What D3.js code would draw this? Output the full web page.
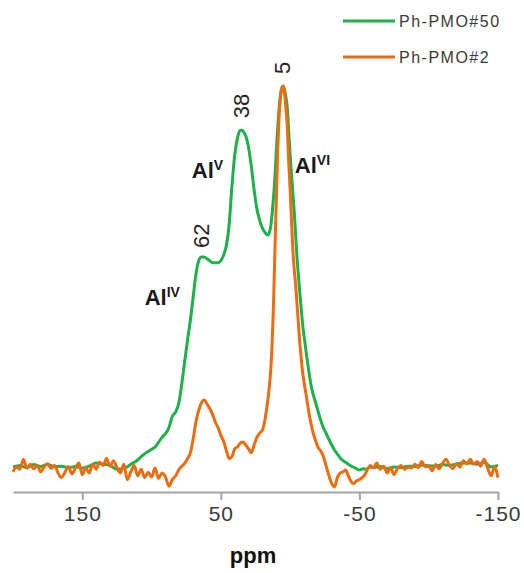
<!DOCTYPE html>
<html>
<head>
<meta charset="utf-8">
<title>27Al NMR</title>
<script src="https://d3js.org/d3.v7.min.js"></script>
<style>
  body { margin: 0; background: #fff; }
  text { font-family: "Liberation Sans", Arial, sans-serif; }
</style>
</head>
<body>
<div id="chart"></div>
<script>
// Ph-PMO#50 (green)
var greenPpm = [200,195,190,185,180,175,170,165,160,155,150,145,140,135,130,125,120,117.5,115,112.5,110,107.5,105,102.5,100,97.5,95,92.5,90,87.5,85,82.5,80,78,76,74,72,70,68,66,64,62,60,58,56,54,52,50,48,46,44,42,40,38,36,35,34,32,30,28,26,24,22,20,18,16,14,12,11,10,9,8,7,6,5,4,3,2,1,0,-1,-2,-3,-4,-5,-6,-7,-8,-9,-10,-12,-14,-16,-18,-20,-22,-24,-26,-28,-30,-32,-34,-36,-38,-40,-42,-44,-46,-48,-50,-52.5,-55,-57.5,-60,-65,-70,-75,-80,-85,-90,-95,-100,-105,-110,-115,-120,-125,-130,-135,-140,-145,-150];
var greenInt = [0.8,1.2,0.6,1.4,0.9,1.5,0.8,1.0,0.6,0.9,0.5,1.0,1.8,1.5,1.2,0.2,0.5,0.8,1.5,2.0,2.6,3.5,4.2,4.8,5.4,6.0,7.2,8.5,9.5,11.0,14.0,15.2,18,23,28.5,34,39,45,51,54.5,55.5,55.5,55,54.5,54,54,54,54.5,56,58.5,64,74,82,86.5,88.5,88.5,88.2,87,84,79,73,68,65,63,61.8,61.2,63.5,71,76,83,89,94,97.5,99.5,100,99,97,94,88,82,77,72,67,61,55,50.5,46,42,38,35,29.5,24.5,20.5,18,15.5,13,11,9.5,8,6.5,5.2,4.2,3.2,2.5,2.0,1.5,1.0,0.7,0.3,0.0,0.3,0.2,0.8,0.6,0.9,0.4,0.8,0.6,1.0,0.9,1.3,1.1,1.0,1.4,1.2,1.6,1.8,1.8,1.5,2.0,0.8,1.2];

// Ph-PMO#2 (orange)
var orangePpm = [200,197.5,195,192.5,190,187.5,185,182.5,180,177.5,175,172.5,170,167.5,165,162.5,160,157.5,155,152.5,150,147.5,145,142.5,140,137.5,135,132.5,130,127.5,125,122.5,120,117.5,115,112.5,110,107.5,105,102.5,100,97.5,95,92.5,90,87.5,85,82.5,80,78,76,74,72,70,68,66,64,62,60,58,56,54,52,50,48,46,44,42,40,38,36,34,32,30,28,26,24,22,20,18,16,14,13,12,11,10,9,8,7,6,5,4,3,2,1,0,-1,-2,-3,-4,-5,-6,-7,-8,-9,-10,-12,-14,-16,-18,-20,-22,-24,-26,-28,-30,-32,-34,-36,-38,-40,-42,-44,-46,-48,-50,-52,-54,-56,-58,-60,-62.5,-65,-67.5,-70,-72.5,-75,-77.5,-80,-82.5,-85,-87.5,-90,-92.5,-95,-97.5,-100,-102.5,-105,-107.5,-110,-112.5,-115,-117.5,-120,-122.5,-125,-127.5,-130,-132.5,-135,-137.5,-140,-142.5,-145,-147.5,-150];
var orangeInt = [-0.5,0.8,0.2,2.8,0.5,1.5,0.3,1.2,-0.5,0.8,1.6,0.4,1.2,-0.8,-2.0,-0.6,0.9,-1.0,0.5,1.8,-1.2,0.6,-0.8,1.5,0.2,2.0,1.2,3.0,1.0,2.4,0.6,-0.8,1.5,-2.5,-0.5,1.2,-1.5,0.2,-2.0,-0.6,-1.8,0.5,-2.2,-0.8,-1.8,-4.2,-2.5,-1.5,0.3,1.0,1.8,3.0,4.5,8.0,12.5,15.5,17.5,18.2,17.2,16.0,14.5,12.5,11.0,9.0,7.5,5.0,3.0,3.5,5.5,6.0,7.0,7.3,6.5,5.5,4.5,6.5,8.5,9.6,10.4,13.5,18.5,26,33,43,57,70,83,92,97,99.5,100,98,94,89,80,73,65,57,52,48,43,38,33,29,25.5,23,18.5,14,10.5,8,6,5,3.5,1.0,-1.5,-3.5,-4.4,-2.0,-0.8,-0.5,0.0,-1.5,-3.0,-3.5,-2.8,-2.5,-2.0,-1.2,0.3,1.2,0.5,1.8,0.2,1.0,-0.8,0.6,-1.2,0.4,1.2,0.2,0.8,0.5,1.5,0.6,2.2,0.8,1.0,-0.2,1.4,0.3,1.8,2.8,1.2,0.4,1.6,0.8,2.4,1.6,2.8,1.5,2.2,1.0,2.8,0.5,-1.5,0.8,-2.0];

var seriesNames = ["Ph-PMO#50", "Ph-PMO#2"];
var seriesColors = ["#1db14b", "#ec6c0f"];
var xTicks = [150, 50, -50, -150];
var xDomain = [200, -150];

// peak position labels and site labels
var peakLabels = [{ text: "5", ppm: 5, v: 100 }, { text: "38", ppm: 35, v: 88.5 }, { text: "62", ppm: 63.5, v: 54.7 }];
var siteLabels = [{ base: "Al", sup: "IV", ppm: 105, v: 43 }, { base: "Al", sup: "V", ppm: 71, v: 76 }, { base: "Al", sup: "VI", ppm: -3.4, v: 77.3 }];

var W = 524, H = 573;
var svg = d3.select("#chart").append("svg")
  .attr("width", W)
  .attr("height", H);

var x = d3.scaleLinear().domain(xDomain).range([13, 498]);
var y = d3.scaleLinear().domain([0, 100]).range([470, 86]);
var axisY = 492;

var series = [
  { name: seriesNames[0], color: seriesColors[0], data: greenPpm.map(function (p, i) { return { p: p, v: greenInt[i] }; }) },
  { name: seriesNames[1], color: seriesColors[1], data: orangePpm.map(function (p, i) { return { p: p, v: orangeInt[i] }; }) }
];

var line = d3.line()
  .x(function (d) { return x(d.p); })
  .y(function (d) { return y(d.v); })
  .curve(d3.curveMonotoneX);

// draw green first, orange on top
svg.selectAll(".series")
  .data(series)
  .enter().append("path")
  .attr("class", "series")
  .attr("d", function (d) { return line(d.data); })
  .attr("fill", "none")
  .attr("stroke", function (d) { return d.color; })
  .attr("stroke-width", 3)
  .attr("stroke-linejoin", "round");

// x axis
var xAxis = d3.axisBottom(x).tickValues(xTicks).tickSize(8).tickPadding(6).tickSizeOuter(0)
  .tickFormat(function (d) { return String(d); });
var gx = svg.append("g")
  .attr("transform", "translate(0," + axisY + ")")
  .call(xAxis);
gx.select(".domain").attr("stroke", "#a3a3a3").attr("stroke-width", 2);
gx.selectAll(".tick line").attr("stroke", "#a3a3a3").attr("stroke-width", 2);
gx.selectAll(".tick text")
  .attr("fill", "#3a3a3a")
  .style("font-size", "21px")
  .style("letter-spacing", "1px");

svg.append("text")
  .attr("x", 253)
  .attr("y", 563)
  .attr("text-anchor", "middle")
  .attr("fill", "#111")
  .style("font-size", "22px")
  .style("font-weight", "bold")
  .text("ppm");

// peak labels (rotated)
svg.selectAll(".peak")
  .data(peakLabels)
  .enter().append("text")
  .attr("class", "peak")
  .attr("transform", function (d) { return "translate(" + (x(d.ppm) + 7) + "," + (y(d.v) - 12) + ") rotate(-90)"; })
  .attr("text-anchor", "start")
  .attr("fill", "#262626")
  .style("font-size", "22px")
  .text(function (d) { return d.text; });

// site labels
var site = svg.selectAll(".site")
  .data(siteLabels)
  .enter().append("text")
  .attr("class", "site")
  .attr("x", function (d) { return x(d.ppm); })
  .attr("y", function (d) { return y(d.v); })
  .attr("fill", "#1a1a1a")
  .style("font-weight", "bold")
  .style("font-size", "22px");
site.append("tspan").text(function (d) { return d.base; });
site.append("tspan")
  .attr("dy", -8)
  .style("font-size", "14px")
  .text(function (d) { return d.sup; });

// legend
var legend = svg.selectAll(".legend")
  .data(series)
  .enter().append("g")
  .attr("class", "legend")
  .attr("transform", function (d, i) { return "translate(343," + (21 + i * 36) + ")"; });
legend.append("line")
  .attr("x1", 0).attr("x2", 52)
  .attr("stroke", function (d) { return d.color; })
  .attr("stroke-width", 3);
legend.append("text")
  .attr("x", 56)
  .attr("dy", "0.35em")
  .attr("fill", "#3a3a3a")
  .style("font-size", "16px")
  .style("letter-spacing", "1.5px")
  .text(function (d) { return d.name; });
</script>
</body>
</html>
